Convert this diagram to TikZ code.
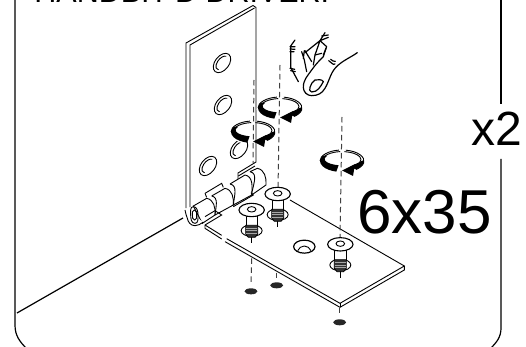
\documentclass[tikz,border=0pt]{standalone}
\usepackage{fontspec}
\setmainfont{Liberation Sans}
\usepackage{xcolor}
\usetikzlibrary{calc}
\begin{document}
\begin{tikzpicture}[x=1pt,y=-1pt,semithick,line width=0.8pt]
\tikzstyle{marco}=[line width=1.2pt,black]
\tikzstyle{pieza}=[line width=0.9pt,black]
\tikzstyle{eje}=[line width=1pt,black!75,dash pattern=on 5.5pt off 3.5pt]
\tikzstyle{rosca}=[fill=black!80,draw=black]
\tikzstyle{dedo}=[line width=1.2pt,line cap=round,line join=round]
\useasboundingbox (0,0) rectangle (526,347);
%marco
\coordinate (m1) at (15,-2);
\coordinate (m2) at (15,325);
\coordinate (m3) at (27,349);
\coordinate (m4) at (501,-2);
\coordinate (m5) at (501,104);
\coordinate (m6) at (501,159);
\coordinate (m7) at (501,328);
\coordinate (m8) at (490,349);
\coordinate (s1) at (17,313);
\coordinate (s2) at (183,218);
\draw[marco] (m1) -- (m2) to[out=-90,in=135] (m3);
\draw[marco] (m4) -- (m5);
\draw[marco] (m6) -- (m7) to[out=-90,in=45] (m8);
\path[marco] (s1) edge (s2);
%placa vertical
\draw[pieza] (190,207) -- (190,45) -- (254.5,8);
\draw[pieza] (186,208) -- (186,43) -- (253,5.5) -- (256,7.5) -- (256,162) -- (238,173) -- (238,179);
\foreach \hx/\hy in {222/63,223/105,239/149,208/166}
{
\begin{scope}[shift={(\hx,\hy)},rotate=-38]
\draw[pieza] (0,0) ellipse[x radius=7pt,y radius=11pt];
\draw[pieza] (100:4.5pt and 8pt) arc[start angle=100,end angle=290,x radius=4.5pt,y radius=8pt];
\end{scope}
}
%bisagra y placa horizontal
\begin{scope}[shift={(170,160)},x=0.3333pt,y=-0.3333pt]
\draw[pieza] (105,100) -- (155,70) -- (160,82);
\draw[pieza] (105,100) -- (110,112);
\draw[pieza,fill=white] (70,138) -- (110,115) to[out=-10,in=85] (135,165) -- (97,190) -- cycle;
\draw[pieza,fill=white] (125,108) -- (165,85) to[out=-10,in=85] (190,135) -- (135,165) to[out=85,in=-10] (125,108);
\draw[pieza,fill=white] (180,72) -- (225,45) to[out=-10,in=85] (245,105) -- (190,135) to[out=85,in=-10] (180,72);
\draw[pieza,fill=white] (240,35) -- (262,25) to[out=-10,in=85] (288,75) -- (245,105) to[out=85,in=-10] (240,35);
\draw[pieza] (205,48) -- (255,18);
\draw[pieza,fill=white] (45,150) to[out=-90,in=100] (52,175) to[out=-80,in=180] (75,197) to[out=0,in=215] (100,186);
\draw[pieza] (62,165) to[out=90,in=180] (70,140) to[out=0,in=90] (84,165) to[out=-90,in=0] (75,190) to[out=180,in=-90] (62,165);
\draw[pieza] (67,165) to[out=90,in=180] (73,150) to[out=0,in=90] (80,165) to[out=-90,in=0] (74,180) to[out=180,in=-90] (67,165);
\draw[pieza] (105,170) -- (135,152) -- (155,165) -- (105,195);
\draw[pieza] (190,140) -- (250,105) -- (243,98);
\draw[pieza] (105,195) -- (105,205) -- (155,237);
\draw[pieza] (105,195) -- (155,226);
\draw[pieza] (170,236) -- (510,430) -- (703,318) -- (360,120);
\draw[pieza] (165,245) -- (510,442) -- (703,330) -- (703,318);
\draw[pieza] (510,430) -- (510,442);
\draw[line width=1.2pt] (403,260) ellipse[x radius=10.7pt,y radius=6.5pt];
\draw[pieza] (383,272) to[out=60,in=180] (403,258) to[out=0,in=120] (423,272);
%ejes inferiores
\coordinate (e1) at (245,295);
\coordinate (e2) at (243,375);
\coordinate (e3) at (320,338);
\coordinate (e4) at (320,356);
\coordinate (e5) at (509,445);
\coordinate (e6) at (509,458);
\path[eje] (e1) edge (e2) (e3) edge (e4) (e5) edge (e6);
\fill[black!85] (243,394) ellipse[x radius=6.5pt,y radius=3pt];
\fill[black!85] (320,376) ellipse[x radius=6.5pt,y radius=3pt];
\fill[black!85] (509,487) ellipse[x radius=6.5pt,y radius=3pt];
\end{scope}
%ejes superiores
\coordinate (a1) at (254,80);
\coordinate (a2) at (253,163);
\coordinate (b1) at (280,65);
\coordinate (b2) at (278,190);
\coordinate (c1) at (342,117);
\coordinate (c2) at (340,238);
\path[eje] (a1) edge (a2) (b1) edge (b2) (c1) edge (c2);
%tornillos
\begin{scope}[shift={(170,160)},x=0.3333pt,y=-0.3333pt]
\foreach \tx/\ty in {323/102,245/150,511/253}
{
\begin{scope}[shift={(\tx,\ty)}]
\draw[pieza] (0,62) ellipse[x radius=10.5pt,y radius=5.8pt];
\draw[pieza] (0,80) -- (0,100);
\draw[pieza,fill=white] (-17,10) rectangle (17,48);
\draw[rosca] (-18,46) -- (18,46) -- (18,72) -- (10,82) -- (-10,82) -- (-18,72) -- cycle;
\foreach \ry in {54,62,70}
{
\draw[black!35,line width=0.4pt] (-16,\ry) -- (16,\ry);
}
\draw[line width=1.1pt,fill=white] (0,0) ellipse[x radius=12.7pt,y radius=6.7pt];
\draw[pieza] (0,-2) ellipse[x radius=4.3pt,y radius=2.7pt];
\end{scope}
}
\end{scope}
%giros
\foreach \gx/\gy in {280/108,253/132,342/161}
{
\begin{scope}[shift={(\gx,\gy)}]
\draw[white,line width=3pt] (98:22pt and 11pt) arc[start angle=98,end angle=250,x radius=22pt,y radius=11pt];
\draw[white,line width=3pt] (80:22pt and 11pt) arc[start angle=80,end angle=-50,x radius=22pt,y radius=11pt];
\draw[pieza] (98:22pt and 11pt) arc[start angle=98,end angle=180,x radius=22pt,y radius=11pt];
\draw[pieza] ($(98:20pt and 8pt)+(1pt,1.5pt)$) arc[start angle=98,end angle=180,x radius=20pt,y radius=8pt];
\fill[black] (150:22pt and 11pt) arc[start angle=150,end angle=255,x radius=22pt,y radius=11pt] -- ($(255:19pt and 6.5pt)+(1.5pt,2pt)$) arc[start angle=255,end angle=150,x radius=19pt,y radius=6.5pt] -- cycle;
\draw[pieza] (80:22pt and 11pt) arc[start angle=80,end angle=-50,x radius=22pt,y radius=11pt];
\draw[pieza] ($(80:20pt and 8pt)+(-1pt,1.5pt)$) arc[start angle=80,end angle=-20,x radius=20pt,y radius=8pt];
\fill[black] (5:22pt and 11pt) arc[start angle=5,end angle=-50,x radius=22pt,y radius=11pt] -- (8,6) -- ($(-15:20pt and 8pt)+(-1pt,1.5pt)$) -- cycle;
\fill[black] (0,9.5) -- (13,3) -- (11,15) -- cycle;
\end{scope}
}
%mano
\begin{scope}[shift={(270,30)},x=0.3333pt,y=-0.3333pt]
\draw[dedo] (262,68) to[out=215,in=40] (205,105) to[out=220,in=60] (165,175) to[out=240,in=0] (125,197) to[out=180,in=-90] (100,172) to[out=90,in=235] (125,120) to[out=55,in=225] (160,80) -- (168,55);
\draw[dedo] (120,172) to[out=60,in=200] (135,150) to[out=0,in=120] (160,155) to[out=240,in=0] (125,186) to[out=180,in=240] (120,172);
\draw[dedo] (176,92) to[out=-20,in=220] (195,102);
\draw[dedo] (182,88) to[out=-20,in=220] (196,94);
\draw[dedo] (125,95) -- (105,62) (130,105) -- (135,75) -- (150,32) -- (105,68);
\draw[dedo] (150,32) -- (175,22) (150,32) -- (165,8) (150,32) -- (170,50) -- (160,75);
\draw[dedo] (135,75) -- (155,70) (155,18) -- (175,15);
\draw[dedo] (95,65) -- (103,90) -- (110,125) (103,62) -- (100,85);
\draw[dedo] (75,30) -- (62,48) -- (62,112) -- (85,155);
\draw[dedo] (60,50) -- (75,50) (60,57) -- (75,58) (60,65) -- (72,65);
\draw[dedo] (60,115) -- (74,118) (62,122) -- (76,125);
\end{scope}
%textos
\node[anchor=base west,inner sep=0pt,font=\fontsize{30.5}{30.5}\selectfont] (titulo) at (34,3) {HANDBIT'D DRIVER:};
\node[anchor=base east,inner sep=0pt,font=\fontsize{62}{62}\selectfont] (medida) at (492,233) {6x35};
\node[anchor=base east,inner sep=0pt,font=\fontsize{48}{48}\selectfont] (veces) at (523,146) {x2};
\end{tikzpicture}
\end{document}
